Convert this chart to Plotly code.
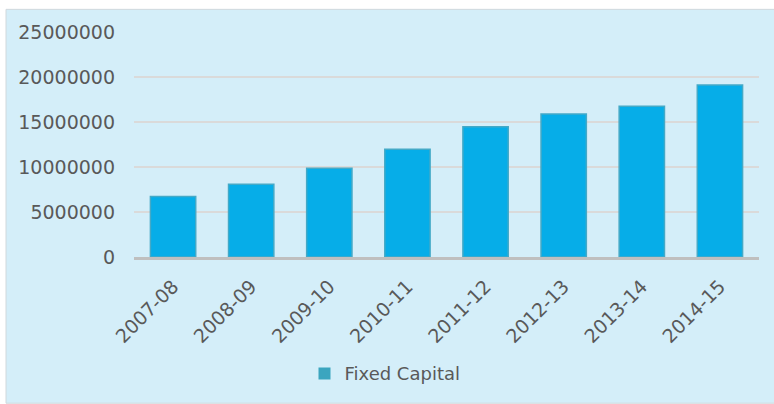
import plotly.graph_objects as go

categories = ["2007-08", "2008-09", "2009-10", "2010-11", "2011-12", "2012-13", "2013-14", "2014-15"]
fixed_capital = [6730000, 8070000, 9870000, 11980000, 14460000, 15890000, 16760000, 19120000]
y_ticks = [0, 5000000, 10000000, 15000000, 20000000, 25000000]
y_tick_labels = ["0", "5000000", "10000000", "15000000", "20000000", "25000000"]
series_name = "Fixed Capital"

W, H = 774, 404
L, R, T, B = 134, 15, 32, 143.5
pw, ph = W - L - R, H - T - B

def px_x(x):
    return (x - L) / pw

def px_y(y):
    return (H - B - y) / ph

font_fam = "DejaVu Sans"
grey = "#595959"

fig = go.Figure()
fig.add_trace(go.Bar(
    x=categories, y=fixed_capital, name=series_name, showlegend=False,
    marker=dict(color="#06ADE8", line=dict(color="#44A9C7", width=1.5)),
    width=0.58,
))
fig.add_trace(go.Bar(
    x=[None], y=[None], name=series_name, showlegend=True,
    marker=dict(color="#3BA5BF", line=dict(width=0)),
))

fig.add_shape(type="rect", xref="paper", yref="paper",
              x0=px_x(6), x1=px_x(W + 5), y0=px_y(9), y1=px_y(H + 5),
              fillcolor="#D4EEF9", line=dict(color="#D0D8DC", width=1), layer="below")

fig.update_layout(
    width=W, height=H,
    margin=dict(l=L, r=R, t=T, b=B, pad=0),
    paper_bgcolor="white",
    plot_bgcolor="rgba(0,0,0,0)",
    font=dict(family=font_fam, color=grey, size=19),
    bargap=0.42,
    showlegend=True,
    legend=dict(orientation="h", x=px_x(385), y=px_y(379), xanchor="center", yanchor="middle",
                font=dict(size=18, color=grey), bgcolor="rgba(0,0,0,0)", itemwidth=30),
    xaxis=dict(
        type="category", tickangle=-45, showgrid=False,
        showline=True, linecolor="#BFBFBF", linewidth=3,
        ticks="", tickfont=dict(size=19, color=grey), ticklabelstandoff=8,
    ),
    yaxis=dict(
        range=[0, 25000000], tickvals=y_ticks, ticktext=y_tick_labels,
        showgrid=True, gridcolor="#DADADA", gridwidth=1.5,
        zeroline=False, showline=False, ticks="",
        ticklabelstandoff=18, tickfont=dict(size=19, color=grey),
    ),
)

fig.write_html("out.html")
